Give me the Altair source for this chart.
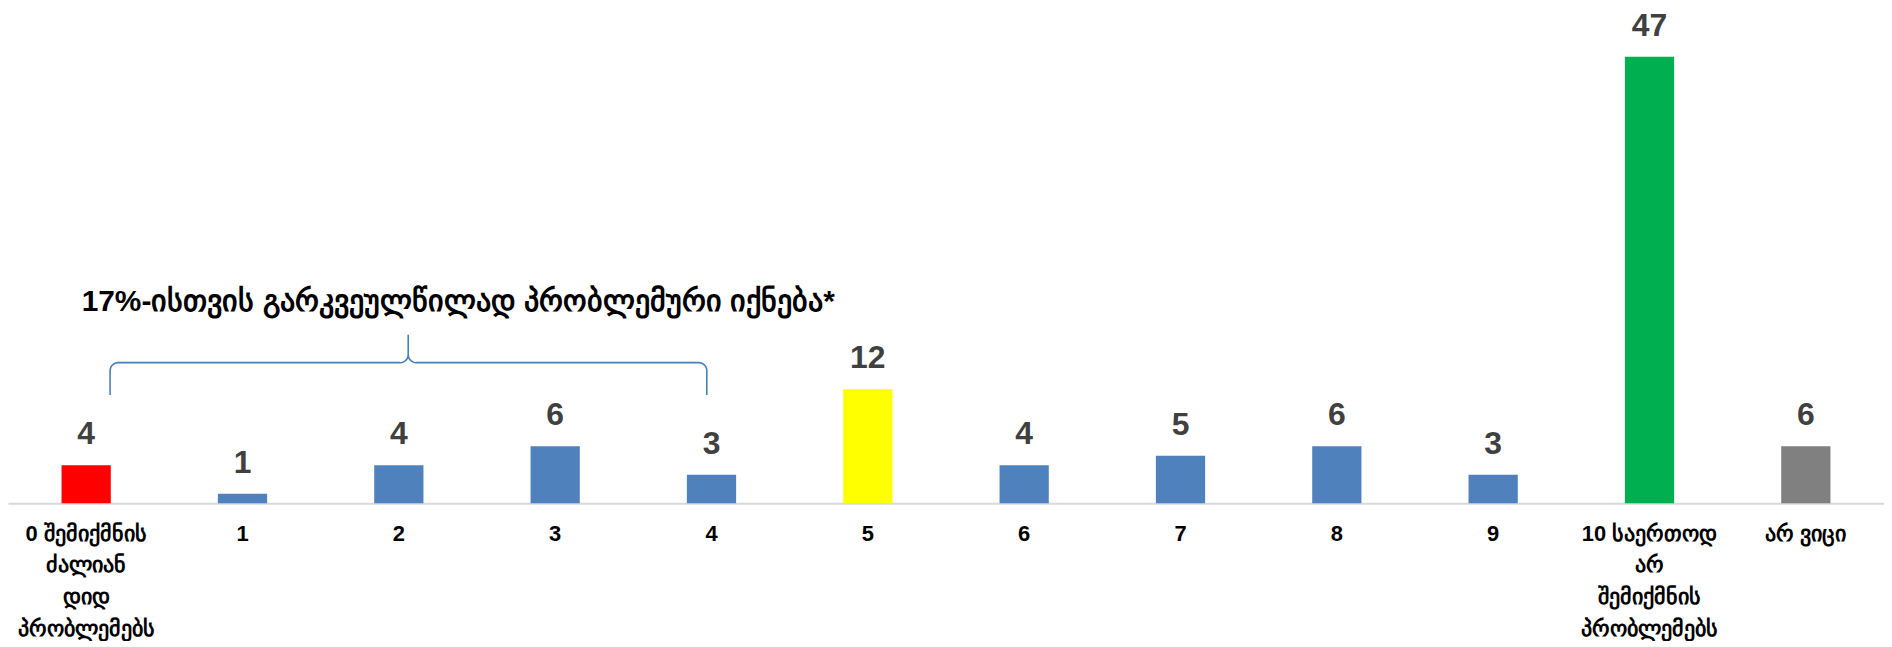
import altair as alt
import numpy as np
import pandas as pd

categories = [
    "0 შემიქმნის|ძალიან|დიდ|პრობლემებს",
    "1", "2", "3", "4", "5", "6", "7", "8", "9",
    "10 საერთოდ|არ|შემიქმნის|პრობლემებს",
    "არ ვიცი",
]
values = [4, 1, 4, 6, 3, 12, 4, 5, 6, 3, 47, 6]
colors = ["#FF0000", "#4F81BD", "#4F81BD", "#4F81BD", "#4F81BD", "#FFFF00",
          "#4F81BD", "#4F81BD", "#4F81BD", "#4F81BD", "#00B050", "#808080"]

annotation = "17%-ისთვის გარკვეულწილად პრობლემური იქნება*"

df = pd.DataFrame({"cat": categories, "val": values, "color": colors})

# brace spanning categories 0..4 (in band-index units)
L, R, C = 0.653, 4.47, 2.56
h, e, p = 14.8, 11.4, 17.75
rx, ry = 0.051, 0.84

def arc(cx, cy, a0, a1, n=8):
    t = np.linspace(np.radians(a0), np.radians(a1), n)
    return list(zip(cx + rx * np.cos(t), cy + ry * np.sin(t)))

pts = [(L, e)]
pts += arc(L + rx, h - ry, 180, 90)
pts += arc(C - rx, h + ry, -90, 0)
pts += [(C, p)]
pts += arc(C + rx, h + ry, 180, 270)
pts += arc(R - rx, h - ry, 90, 0)
pts += [(R, e)]
brace = pd.DataFrame({"bx": [q[0] for q in pts], "by": [q[1] for q in pts],
                      "o": list(range(len(pts)))})

FONT = "Liberation Sans"

y_scale = alt.Scale(domain=[0, 52], nice=False, zero=True)

x_enc = alt.X("cat:N", sort=categories, title=None,
              scale=alt.Scale(paddingInner=0.685, paddingOuter=0.3425),
              axis=alt.Axis(labelExpr="split(datum.label, '|')", labelAngle=0,
                            labelFont=FONT, labelFontSize=22, labelFontWeight="bold",
                            labelColor="#000000", labelLineHeight=32,
                            labelPadding=20, ticks=False, domainColor="#D9D9D9",
                            domainWidth=2, labelBaseline="top"))
y_enc = alt.Y("val:Q", scale=y_scale, axis=None)

bars = alt.Chart(df).mark_bar().encode(
    x=x_enc, y=y_enc, color=alt.Color("color:N", scale=None))

labels = alt.Chart(df).mark_text(
    dy=-21, baseline="alphabetic", font=FONT, fontSize=32, fontWeight="bold",
    color="#404040"
).encode(x=alt.X("cat:N", sort=categories), y=alt.Y("val:Q", scale=y_scale),
         text="val:Q")

bx_scale = alt.Scale(domain=[0, 12], nice=False, zero=False)
brace_line = alt.Chart(brace).mark_line(color="#4A7EBB", strokeWidth=1.6).encode(
    x=alt.X("bx:Q", scale=bx_scale, axis=None),
    y=alt.Y("by:Q", scale=y_scale), order="o:Q")

ann = alt.Chart(pd.DataFrame({"t": [annotation], "ax": [2.88], "ay": [21.15]})).mark_text(
    font=FONT, fontSize=30, fontWeight="bold", color="#000000", baseline="middle"
).encode(x=alt.X("ax:Q", scale=bx_scale, axis=None),
         y=alt.Y("ay:Q", scale=y_scale), text="t:N")

base = alt.layer(bars, labels)
over = alt.layer(brace_line, ann)

chart = alt.layer(base, over).resolve_scale(x="independent").properties(
    width=1884, height=496, padding={"left": 0, "top": 0, "right": 0, "bottom": 0},
    background="white"
).configure_view(stroke=None)

chart.save("out.html", embed_options={"renderer": "svg", "actions": False})
